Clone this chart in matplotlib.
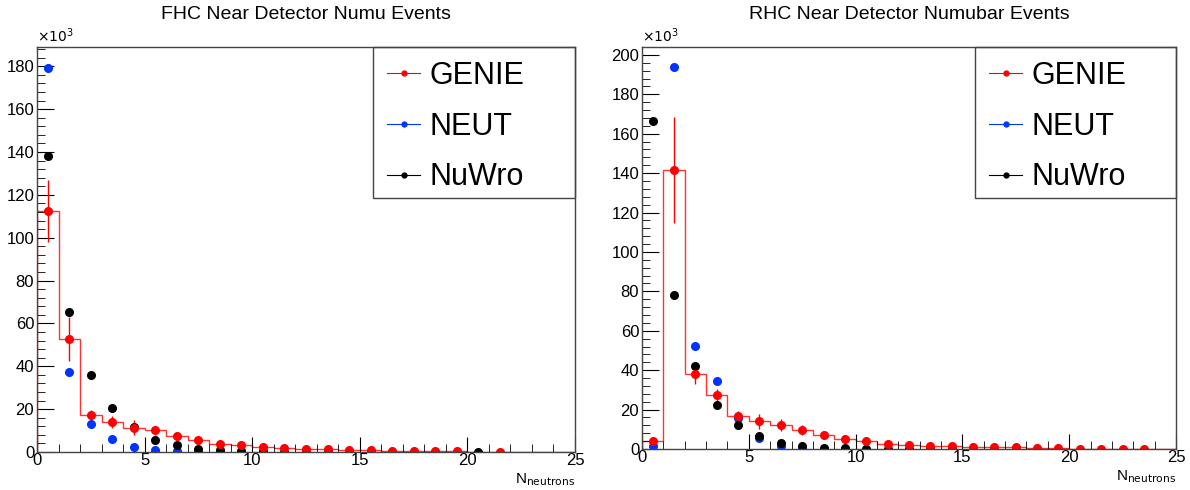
import numpy as np
import matplotlib
matplotlib.use("Agg")
import matplotlib.pyplot as plt
from matplotlib.ticker import MultipleLocator
from matplotlib.patches import Rectangle

plt.rcParams['font.family'] = ['Liberation Sans', 'DejaVu Sans']

# bin edges 0..25, one bin per neutron count (values in units of 10^3 events)
edges = np.arange(0, 26)

# FHC numu
fhc_genie = [112.3, 52.7, 17.4, 14.0, 11.4, 10.1, 7.3, 5.8, 3.9, 3.1, 2.3, 2.0, 1.6,
             1.3, 1.1, 0.8, 0.6, 0.5, 0.4, 0.3, 0.0, 0.2, 0.0, 0.0, 0.0]
fhc_genie_err = [14.5, 10.3, 2.0, 2.6, 3.5, 2.2, 1.6, 1.3, 1.0, 0.8, 0.6, 0.5, 0.4,
                 0.3, 0.3, 0.2, 0.2, 0.2, 0.1, 0.1, 0.0, 0.1, 0.0, 0.0, 0.0]
fhc_neut = [179.4, 37.3, 13.2, 6.2, 2.3, 0.8, 0.3, 0.1, 0.05, 0.03, 0.02, 0, 0,
            0, 0, 0, 0, 0, 0, 0, 0, 0, 0, 0, 0]
fhc_nuwro = [138.0, 65.3, 35.8, 20.5, 11.7, 5.8, 3.1, 1.6, 1.1, 0.4, 0.3, 0.2, 0.15,
             0.1, 0.1, 0.05, 0.05, 0.04, 0.03, 0, 0.02, 0, 0, 0, 0]

# RHC numubar
rhc_genie = [3.8, 141.7, 38.3, 27.6, 16.9, 14.0, 12.3, 9.5, 6.9, 5.2, 4.2, 2.6, 2.1,
             1.6, 1.5, 1.2, 1.0, 0.8, 0.5, 0.4, 0.2, 0.2, 0.15, 0.1, 0.0]
rhc_genie_err = [1.0, 27.0, 5.5, 3.0, 2.5, 4.0, 3.0, 2.5, 1.5, 1.2, 1.0, 0.8, 0.6,
                 0.5, 0.4, 0.3, 0.3, 0.2, 0.2, 0.1, 0.1, 0.1, 0.1, 0.1, 0.0]
rhc_neut = [1.4, 193.7, 52.1, 34.7, 15.7, 5.6, 1.3, 0.5, 0.2, 0.1, 0.05, 0, 0,
            0, 0, 0, 0, 0, 0, 0, 0, 0, 0, 0, 0]
rhc_nuwro = [166.7, 77.9, 41.9, 22.5, 12.0, 6.8, 3.0, 1.4, 0.5, 0.3, 0.2, 0.1, 0.1,
             0.05, 0.05, 0.03, 0.02, 0.02, 0, 0, 0, 0, 0, 0, 0]

panels = [
    ("FHC Near Detector Numu Events", fhc_genie, fhc_genie_err, fhc_neut, fhc_nuwro, 189),
    ("RHC Near Detector Numubar Events", rhc_genie, rhc_genie_err, rhc_neut, rhc_nuwro, 204),
]
boxes = [[0.0311, 0.0776, 0.4521, 0.8264], [0.5395, 0.0837, 0.4487, 0.8203]]
leg_boxes = [(0.6245, 0.627), (0.6236, 0.624)]   # lower-left corner of legend frame

fig = plt.figure(figsize=(11.9, 4.9), dpi=100)
centers = edges[:-1] + 0.5
red, blue, black = '#ff0000', '#0033ff', '#000000'

for (title, genie, gerr, neut, nuwro, ymax), box, (lx, ly) in zip(panels, boxes, leg_boxes):
    ax = fig.add_axes(box)
    genie = np.array(genie); gerr = np.array(gerr)
    neut = np.array(neut); nuwro = np.array(nuwro)

    ax.stairs(genie, edges, color=red, lw=1, alpha=0.8)
    m = genie > 0
    ax.errorbar(centers[m], genie[m], yerr=gerr[m], fmt='o', color=red, ms=5.5,
                elinewidth=1, capsize=0)
    m = neut > 0
    ax.plot(centers[m], neut[m], 'o', color=blue, ms=5.5)
    m = nuwro > 0
    ax.plot(centers[m], nuwro[m], 'o', color=black, ms=5.5)

    # legend (ROOT-style fixed box)
    hs = [ax.plot([], [], '-o', color=c, ms=3.5, lw=0.8)[0] for c in (red, blue, black)]
    ax.legend(hs, ['GENIE', 'NEUT', 'NuWro'], loc='upper left',
              bbox_to_anchor=(lx, 1.0), fontsize=22, frameon=False,
              borderaxespad=0, handlelength=1.1, handletextpad=0.3,
              borderpad=0.45, labelspacing=0.68)
    ax.add_patch(Rectangle((lx, ly), 1 - lx, 1 - ly, transform=ax.transAxes,
                           fill=False, edgecolor='#444444', lw=1, clip_on=False))

    ax.set_xlim(0, 25)
    ax.set_ylim(0, ymax)
    ax.xaxis.set_major_locator(MultipleLocator(5))
    ax.xaxis.set_minor_locator(MultipleLocator(1))
    ax.yaxis.set_major_locator(MultipleLocator(20))
    ax.yaxis.set_minor_locator(MultipleLocator(4))
    ax.tick_params(which='both', direction='in', labelsize=12, top=False, right=False)
    ax.tick_params(axis='y', which='major', length=12)
    ax.tick_params(axis='y', which='minor', length=6)
    ax.tick_params(axis='x', which='major', length=11)
    ax.tick_params(axis='x', which='minor', length=6)
    ax.tick_params(axis='y', pad=2)
    ax.tick_params(axis='x', pad=1)
    for s in ax.spines.values():
        s.set_color('#444444')
        s.set_linewidth(1)

    ax.set_title(title, fontsize=14, pad=20)
    ax.text(0.0, 1.005, r'$\times10^{3}$', transform=ax.transAxes, fontsize=10,
            va='bottom', ha='left')
    ax.set_xlabel(r'N$_{\mathrm{neutrons}}$', fontsize=11, loc='right', labelpad=2)

fig.savefig('out.png', dpi=100)
